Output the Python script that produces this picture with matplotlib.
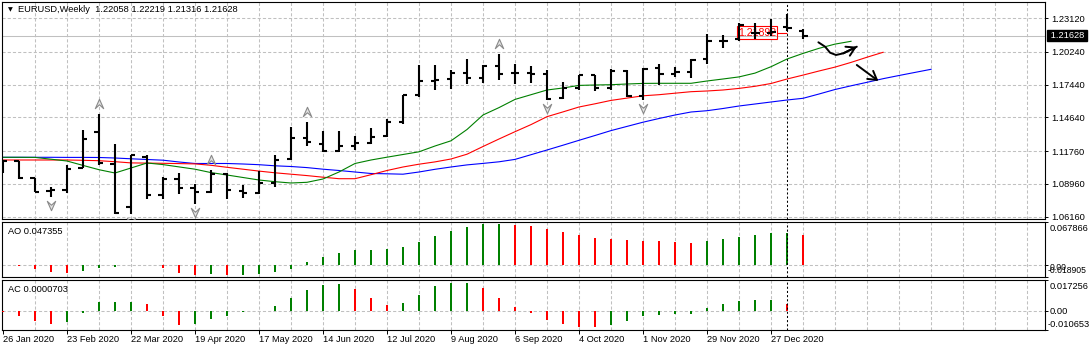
import numpy as np
import matplotlib
matplotlib.use("Agg")
import matplotlib.pyplot as plt
from matplotlib.path import Path
from matplotlib.transforms import blended_transform_factory, offset_copy

plt.rcParams["font.family"] = ["Liberation Sans", "DejaVu Sans"]
plt.rcParams["font.size"] = 6.7

# EURUSD weekly bars, first bar = week of 26 Jan 2020
opens = [1.1025, 1.1094, 1.0944, 1.0835, 1.0840, 1.1035, 1.1340, 1.1070, 1.0700, 1.1130,
         1.0805, 1.0940, 1.0865, 1.0825, 1.0980, 1.0838, 1.0820, 1.0905, 1.1110, 1.1290,
         1.1240, 1.1180, 1.1222, 1.1248, 1.1302, 1.1428, 1.1655, 1.1779, 1.1790, 1.1845,
         1.1799, 1.1906, 1.1845, 1.1845, 1.1840, 1.1628, 1.1718, 1.1826, 1.1717, 1.1860,
         1.1645, 1.1890, 1.1840, 1.1856, 1.1962, 1.2122, 1.2135, 1.2190, 1.2190, 1.2240,
         1.22058]
highs = [1.1100, 1.1096, 1.0950, 1.0870, 1.1055, 1.1357, 1.1496, 1.1240, 1.1147, 1.1145,
         1.0952, 1.0992, 1.0895, 1.1019, 1.0990, 1.0885, 1.1008, 1.1147, 1.1384, 1.1422,
         1.1350, 1.1349, 1.1302, 1.1375, 1.1452, 1.1659, 1.1909, 1.1916, 1.1866, 1.1966,
         1.1910, 1.2011, 1.1920, 1.1900, 1.1872, 1.1770, 1.1831, 1.1829, 1.1881, 1.1868,
         1.1891, 1.1920, 1.1892, 1.1962, 1.2177, 1.2167, 1.2273, 1.2269, 1.2310, 1.2349,
         1.22219]
lows = [1.0992, 1.0940, 1.0828, 1.0785, 1.0818, 1.1030, 1.1054, 1.0640, 1.0636, 1.0770,
        1.0770, 1.0814, 1.0727, 1.0815, 1.0767, 1.0775, 1.0810, 1.0870, 1.1100, 1.1220,
        1.1170, 1.1168, 1.1186, 1.1240, 1.1296, 1.1405, 1.1640, 1.1696, 1.1711, 1.1753,
        1.1762, 1.1785, 1.1753, 1.1755, 1.1612, 1.1622, 1.1700, 1.1689, 1.1702, 1.1640,
        1.1610, 1.1746, 1.1806, 1.1800, 1.1922, 1.2058, 1.2121, 1.2133, 1.2160, 1.2200,
        1.21316]
closes = [1.1094, 1.0945, 1.0830, 1.0846, 1.1027, 1.1282, 1.1075, 1.0650, 1.1140, 1.0805,
          1.0940, 1.0860, 1.0825, 1.0985, 1.0842, 1.0820, 1.0900, 1.1100, 1.1290, 1.1255,
          1.1180, 1.1220, 1.1245, 1.1300, 1.1428, 1.1655, 1.1778, 1.1787, 1.1843, 1.1800,
          1.1906, 1.1840, 1.1845, 1.1840, 1.1622, 1.1716, 1.1826, 1.1716, 1.1860, 1.1645,
          1.1876, 1.1835, 1.1855, 1.1958, 1.2120, 1.2118, 1.2255, 1.2184, 1.2192, 1.2226,
          1.21628]

# Alligator lines (already shifted forward: jaw 8, teeth 5, lips 3 bars)
jaw = [1.11236, 1.11236, 1.11236, 1.11236, 1.11227, 1.11227, 1.11219, 1.11176, 1.11108, 1.11048,
       1.10988, 1.10834, 1.10706, 1.10706, 1.10706, 1.10663, 1.10603, 1.10509, 1.10449, 1.10355,
       1.10219, 1.10107, 1.09979, 1.09851, 1.09825, 1.09791, 1.09979, 1.10210, 1.10407, 1.10586,
       1.10714, 1.10851, 1.11056, 1.11458, 1.11860, 1.12270, 1.12689, 1.13100, 1.13519, 1.13878,
       1.14237, 1.14553, 1.14853, 1.15109, 1.15220, 1.15408, 1.15622, 1.15793, 1.15964, 1.16135,
       1.16280, 1.16648, 1.17033, 1.17349, 1.17648, 1.17956, 1.18230, 1.18495, 1.18760]
teeth = [1.11005, 1.11005, 1.11005, 1.11005, 1.11005, 1.10979, 1.10945, 1.10860, 1.10757, 1.10740,
         1.10723, 1.10697, 1.10672, 1.10552, 1.10381, 1.10219, 1.10056, 1.09911, 1.09791, 1.09672,
         1.09534, 1.09406, 1.09406, 1.09748, 1.10107, 1.10407, 1.10646, 1.10843, 1.11091, 1.11501,
         1.12159, 1.12801, 1.13425, 1.14032, 1.14710, 1.15118, 1.15537, 1.15810, 1.16101, 1.16298,
         1.16494, 1.16588, 1.16717, 1.16845, 1.16905, 1.16990, 1.17127, 1.17306, 1.17546, 1.17930,
         1.18264, 1.18615, 1.18948, 1.19350, 1.19794, 1.20213]
lips = [1.11236, 1.11236, 1.11227, 1.11073, 1.10919, 1.10543, 1.10176, 1.09894, 1.10321, 1.10749,
        1.10612, 1.10415, 1.10219, 1.09928, 1.09723, 1.09509, 1.09295, 1.09150, 1.09039, 1.09098,
        1.09381, 1.09979, 1.10706, 1.11005, 1.11245, 1.11475, 1.11706, 1.12202, 1.12647, 1.13613,
        1.14853, 1.15485, 1.16186, 1.16588, 1.16990, 1.17161, 1.17383, 1.17418, 1.17443, 1.17503,
        1.17554, 1.17563, 1.17563, 1.17563, 1.17760, 1.17931, 1.18110, 1.18435, 1.18982, 1.19640,
        1.20119, 1.20555, 1.20914, 1.21154]

ao = [-0.0004, -0.0026, -0.0074, -0.0117, -0.0138, -0.0101, -0.0058, -0.0040, -0.0010, -0.0005,
      -0.0058, -0.0130, -0.0160, -0.0143, -0.0165, -0.0161, -0.0157, -0.0122, -0.0063, 0.0037,
      0.0116, 0.0175, 0.0227, 0.0229, 0.0243, 0.0270, 0.0354, 0.0450, 0.0529, 0.0592,
      0.0635, 0.0637, 0.0619, 0.0608, 0.0555, 0.0513, 0.0466, 0.0413, 0.0397, 0.0381,
      0.0370, 0.0365, 0.0349, 0.0333, 0.0370, 0.0397, 0.0434, 0.0460, 0.0492, 0.0494,
      0.047355]
ac = [-0.0008, -0.0031, -0.0055, -0.0071, -0.0064, -0.0015, 0.0046, 0.0049, 0.0050, 0.0038,
      -0.0031, -0.0080, -0.0075, -0.0047, -0.0027, -0.0009, -0.0004, 0.0027, 0.0071, 0.0115,
      0.0144, 0.0145, 0.0120, 0.0071, 0.0033, 0.0044, 0.0087, 0.0137, 0.0153, 0.0154,
      0.0126, 0.0071, 0.0022, -0.0015, -0.0053, -0.0075, -0.0091, -0.0092, -0.0080, -0.0058,
      -0.0031, -0.0026, -0.0020, -0.0019, 0.0013, 0.0038, 0.0055, 0.0060, 0.0061, 0.0038,
      0.0000703]
ao_range = (-0.018905, 0.067866)
ac_range = (-0.010653, 0.017256)

fractal_up = [6, 13, 19, 31]
fractal_down = [3, 8, 12, 34, 40]

date_labels = ["26 Jan 2020", "23 Feb 2020", "22 Mar 2020", "19 Apr 2020", "17 May 2020",
               "14 Jun 2020", "12 Jul 2020", "9 Aug 2020", "6 Sep 2020", "4 Oct 2020",
               "1 Nov 2020", "29 Nov 2020", "27 Dec 2020"]
price_ticks = [1.06160, 1.08960, 1.11760, 1.14640, 1.17440, 1.20240, 1.23120]

label_price = 1.21892
cross_week = 49

# hand drawn arrows (week index, price)
curve_x = [50.96, 51.38, 51.69, 52.06, 52.52, 53.36]
curve_y = [1.21068, 1.20692, 1.20179, 1.19983, 1.20128, 1.20692]
arrow_x = [53.36, 54.71]
arrow_y = [1.19128, 1.17760]

W, H, DPI = 1091, 351, 100
fig = plt.figure(figsize=(W / DPI, H / DPI), dpi=DPI)


def panel(left, top, right, bottom):
    return fig.add_axes([left / W, 1 - bottom / H, (right - left) / W, (bottom - top) / H])


ax = panel(2, 2, 1044.5, 218.5)
ao_ax = panel(2, 221.5, 1044.5, 276.5)
ac_ax = panel(2, 279.5, 1044.5, 330)

GRID = dict(color="#c0c0c0", lw=0.75, ls=(0, (3, 2)), zorder=0)
RED, GREEN, BLUE = "#ff0000", "#008000", "#0000ff"

for a in (ax, ao_ax, ac_ax):
    a.set_xlim(-0.06, 65.09)
    for g in range(2, 66, 2):
        a.axvline(g, **GRID)
    for s in a.spines.values():
        s.set_linewidth(0.8)
    a.axvline(cross_week, color="black", lw=0.75, ls=(0, (2, 2)), zorder=6)
    a.tick_params(axis="x", bottom=False, labelbottom=False)

# ---- main price panel ----
ax.set_ylim(1.06003, 1.24514)
for p in price_ticks:
    ax.axhline(p, **GRID)
ax.axhline(closes[-1], color="#c0c0c0", lw=0.75, zorder=0)

ax.plot(np.arange(len(jaw)), jaw, color=BLUE, lw=0.8, zorder=2)
ax.plot(np.arange(len(teeth)), teeth, color=RED, lw=0.8, zorder=2)
ax.plot(np.arange(len(lips)), lips, color=GREEN, lw=0.8, zorder=2)

x = np.arange(len(opens))
ax.vlines(x, lows, highs, color="black", lw=1.5, zorder=4)
ax.hlines(opens, x - 0.28, x, color="black", lw=1.5, zorder=4)
ax.hlines(closes, x, x + 0.28, color="black", lw=1.5, zorder=4)

# fractal markers (notched arrow heads)
up_path = Path([(0, 1), (0.8, -0.8), (0, -0.05), (-0.8, -0.8), (0, 1)],
               [Path.MOVETO, Path.LINETO, Path.LINETO, Path.LINETO, Path.CLOSEPOLY])
down_path = Path([(0, -1), (0.8, 0.8), (0, 0.05), (-0.8, 0.8), (0, -1)],
                 [Path.MOVETO, Path.LINETO, Path.LINETO, Path.LINETO, Path.CLOSEPOLY])
up_tr = offset_copy(ax.transData, fig=fig, x=0, y=10, units="dots")
dn_tr = offset_copy(ax.transData, fig=fig, x=0, y=-8, units="dots")
ax.plot(fractal_up, [highs[i] for i in fractal_up], ls="none", marker=up_path, ms=7.5,
        mfc="#e4e4e4", mec="#8a8a8a", mew=0.8, transform=up_tr, zorder=5, clip_on=False)
ax.plot(fractal_down, [lows[i] for i in fractal_down], ls="none", marker=down_path, ms=7.5,
        mfc="#e4e4e4", mec="#8a8a8a", mew=0.8, transform=dn_tr, zorder=5)

# red price label with its leader line
ax.text(48.31, label_price, f"{label_price:.5f}", ha="right", va="center", color=RED,
        fontsize=7.6, zorder=3,
        bbox=dict(boxstyle="square,pad=0.12", fc="none", ec=RED, lw=0.8))
ax.hlines(label_price, 48.39, cross_week, color=RED, lw=0.8, zorder=3)

# hand drawn arrows
ax.plot(curve_x, curve_y, color="black", lw=1.4, solid_capstyle="round", zorder=6)
ax.annotate("", xy=(curve_x[-1], curve_y[-1]), xytext=(curve_x[-2], curve_y[-2]),
            arrowprops=dict(arrowstyle="->,head_length=0.5,head_width=0.3", lw=1.4,
                            color="black", shrinkA=0, shrinkB=0, mutation_scale=12))
ax.annotate("", xy=(arrow_x[1], arrow_y[1]), xytext=(arrow_x[0], arrow_y[0]),
            arrowprops=dict(arrowstyle="->,head_length=0.5,head_width=0.3", lw=1.4,
                            color="black", shrinkA=0, shrinkB=0, mutation_scale=12))

ax.yaxis.tick_right()
ax.set_yticks(price_ticks)
ax.set_yticklabels([f"{p:.5f}" for p in price_ticks])
ax.tick_params(axis="y", length=2.5, width=0.7, pad=2)

blend = blended_transform_factory(ax.transAxes, ax.transData)
ax.annotate(f" {closes[-1]:.5f} ", xy=(1, closes[-1]), xycoords=blend, xytext=(3, 0),
            textcoords="offset pixels", ha="left", va="center", color="white",
            annotation_clip=False,
            bbox=dict(boxstyle="square,pad=0.1", fc="black", ec="black"))

ax.annotate("\u25bc", xy=(0, 1), xycoords="axes fraction", xytext=(8, -8),
            textcoords="offset pixels", ha="center", va="center", fontsize=4.5,
            family="DejaVu Sans")
ax.annotate(f"EURUSD,Weekly  {opens[-1]:.5f} {highs[-1]:.5f} {lows[-1]:.5f} {closes[-1]:.5f}",
            xy=(0, 1), xycoords="axes fraction", xytext=(16, -8),
            textcoords="offset pixels", ha="left", va="center")

# ---- oscillator panels ----


def osc_panel(a, vals, rng, name, fmt, offs, low_size=6.7):
    colors = [RED if i == 0 or vals[i] < vals[i - 1] else GREEN for i in range(len(vals))]
    a.bar(np.arange(len(vals)), vals, width=0.15, color=colors, zorder=3)
    a.set_ylim(*rng)
    a.axhline(0, **GRID)
    a.yaxis.tick_right()
    a.set_yticks([rng[0], 0, rng[1]])
    a.set_yticklabels([])
    a.tick_params(axis="y", length=2.5, width=0.7)
    tr = blended_transform_factory(a.transAxes, a.transData)
    sizes = [6.7, low_size, low_size]
    for v, txt, (dx, dy), fs in zip([rng[1], 0, rng[0]],
                                    [f"{rng[1]:.6f}", "0.00", f"{rng[0]:.6f}"], offs, sizes):
        a.annotate(txt, xy=(1, v), xycoords=tr, xytext=(dx, dy), textcoords="offset pixels",
                   ha="left", va="center", fontsize=fs, annotation_clip=False)
    a.annotate(f"{name} {vals[-1]:{fmt}}", xy=(0, 1), xycoords="axes fraction",
               xytext=(6, -9.5), textcoords="offset pixels", ha="left", va="center")


osc_panel(ao_ax, ao, ao_range, "AO", ".6f", [(4.8, -6.5), (4.8, -2.5), (3.5, 6.0)],
          low_size=6.2)
osc_panel(ac_ax, ac, ac_range, "AC", ".7f", [(4.8, -7.2), (4.8, -0.3), (3.5, 5.7)])

ac_ax.set_xticks(range(0, 4 * len(date_labels), 4))
ac_ax.set_xticklabels(date_labels, ha="left")
ac_ax.tick_params(axis="x", bottom=True, labelbottom=True, length=3, width=0.7, pad=0.8)

fig.savefig("out.png", dpi=DPI)
